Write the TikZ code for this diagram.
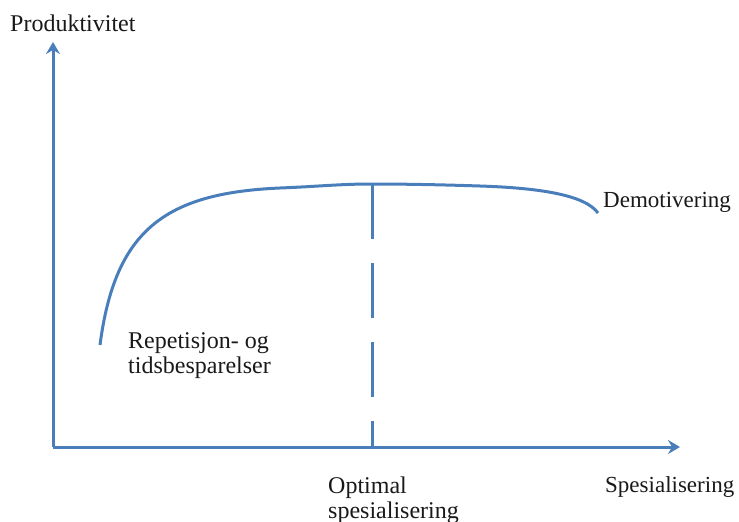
\documentclass[tikz,border=0pt]{standalone}
\usepackage{fontspec}
\setmainfont{Liberation Serif}
\usetikzlibrary{arrows.meta}
\definecolor{lineblue}{HTML}{4A7EBB}
\tikzset{
  curve/.style={draw=lineblue, line width=3pt},
  axis/.style={draw=lineblue, line width=3pt, -{Stealth[length=12pt,width=14pt,inset=4pt]}},
  lbl/.style={inner sep=0pt, anchor=base west, font=\fontsize{24}{28}\selectfont, text=black!90},
  lblr/.style={lbl, font=\fontsize{23}{27}\selectfont}
}
\begin{document}
\begin{tikzpicture}[x=1pt,y=-1pt]
\useasboundingbox (0,0) rectangle (739,522);
\coordinate (O) at (53,447);
\coordinate (Ytip) at (53,42);
\coordinate (Xtip) at (680,447);
\coordinate (start) at (100,345);
\coordinate (knee) at (280,188);
\coordinate (peak) at (372,184);
\coordinate (mid) at (480,186);
\coordinate (end) at (598,213);
\coordinate (foot) at (372,447);
\draw[axis] (O) -- (Ytip);
\draw[axis] (O) -- (Xtip);
\draw[curve] (start) .. controls (115,230) and (165,193) .. (knee)
  .. controls (318,186.5) and (340,184) .. (peak)
  .. controls (410,184) and (450,185) .. (mid)
  .. controls (540,188) and (585,195) .. (end);
\draw[curve, dash pattern=on 55pt off 24pt] (peak) -- (foot);
\node[lbl] (prod) at (10,31) {Produktivitet};
\node[lblr] (demo) at (603,207) {Demotivering};
\node[lbl] (rep) at (128,348) {Repetisjon- og};
\node[lbl] (tids) at (128,373) {tidsbesparelser};
\node[lbl] (opt) at (328,493) {Optimal};
\node[lbl] (opt2) at (328,518) {spesialisering};
\node[lblr] (spes) at (605,492) {Spesialisering};
\end{tikzpicture}
\end{document}
